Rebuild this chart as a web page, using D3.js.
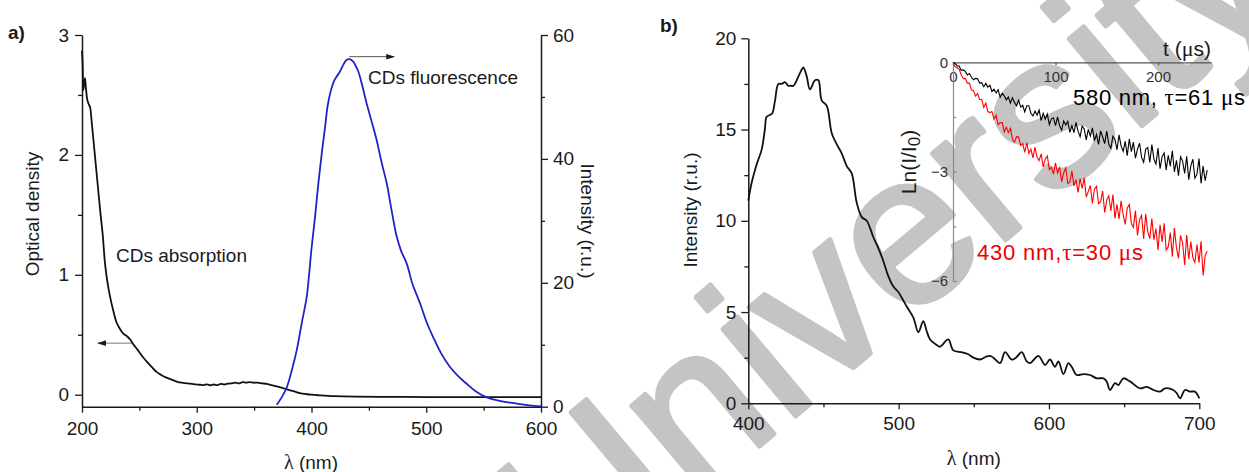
<!DOCTYPE html>
<html><head><meta charset="utf-8">
<script src="https://cdn.jsdelivr.net/npm/d3@7"></script>
<style>
body{margin:0;background:#fff}
svg{display:block}
</style></head><body>
<svg id="c" width="1249" height="472"></svg>
<script>
// ---------- DATA ----------
// panel a: absorption (optical density)
const absWl = [200,200.6,201.1,202,202.6,203.5,204.6,206,207,208.5,210,212,214,216,218,220,222,224.4,227,230.2,233,236,238.9,242,244.7,248,251,253.4,257,261,265,269,273,277,282.5,287,292,297,302.8,306,309,312,315,318,321,324,327,331.8,334,337,340,343,346,349.3,353,357,361,365,369.7,375,380,385,390,395,400,407,420,440,470,500,550,600];
const absOD = [2.87,2.75,2.54,2.6,2.64,2.55,2.46,2.42,2.4,2.27,2.12,1.92,1.72,1.52,1.34,1.1,0.95,0.82,0.71,0.6,0.55,0.51,0.49,0.46,0.42,0.38,0.34,0.31,0.27,0.23,0.19,0.165,0.145,0.13,0.11,0.1,0.095,0.088,0.083,0.08,0.087,0.078,0.085,0.08,0.09,0.085,0.092,0.097,0.1,0.095,0.105,0.1,0.105,0.1,0.1,0.095,0.09,0.08,0.07,0.055,0.04,0.027,0.014,0.006,0.0,-0.005,-0.012,-0.016,-0.018,-0.02,-0.02,-0.02];
// panel a: fluorescence (intensity, right axis)
const flWl = [369.7,374,378.4,383,387.1,391.5,395.8,398,400,403,406,409,411.8,414,416.7,420,424.8,428,430.7,433,436.4,438.5,440.8,444,448,452,456.8,461,465.5,470,474.2,478,483,488,494.6,500,506.1,513,520.7,528,535.2,543,552.7,565,578.8,590,600];
const flInt = [0.3,1.5,3.1,6,9.1,13.5,17.7,21.5,25.5,30.5,36.1,41,45.1,48.5,50.9,52.7,54.1,55.3,56,56.1,55.7,55,54.1,52,49,46.3,43,39.5,36.1,31.5,27.5,25.2,23.1,19.8,16.7,13.8,11.2,8.6,6.4,4.9,3.7,2.5,1.5,0.9,0.5,0.2,0.05];
// panel b: emission spectrum
const pbWl = [400,402,404.5,406,408.9,411,412.2,414.4,416,417.8,420,422.2,424.4,426.6,428,430,433.3,435,436.6,438.9,441,444.4,446.6,448.8,452.2,455.5,458.8,462.1,465.5,468.8,472.1,475.5,478.8,481,483.2,486,489.8,493,496.5,499.8,502,505.4,509.8,513.1,516.4,518.5,520.9,525.3,527.5,533,536.4,542,546,549.7,554.2,558,560.8,563,567.5,570.8,575.2,578,581.9,585.2,587.5,593,597.4,600.7,604,606.3,609.6,612.9,615.1,618.5,622.9,627.3,631.8,636.2,638.4,640.6,644,646.2,649.5,653.9,660.6,665,669.5,673.9,677.2,682.7,685,687.2,690.5,693.8,697.1,700];
const pbInt = [11.1,12.0,12.8,13.2,13.9,15.0,15.7,15.8,15.9,16.6,17.5,17.5,17.6,17.4,17.4,17.4,17.9,18.2,18.4,17.9,17.2,17.7,17.7,16.6,16.3,14.8,14.2,13.7,13.0,12.6,11.0,10.2,10.0,9.6,9.1,8.6,7.8,7.0,6.4,6.1,5.8,5.3,4.7,3.9,4.5,4.0,3.5,3.2,3.1,3.5,2.9,2.8,2.7,2.5,2.4,2.55,2.6,2.5,2.2,2.8,2.4,2.5,2.8,2.3,2.2,2.6,2.1,2.4,2.0,2.3,1.6,2.2,2.0,1.55,1.6,1.55,1.37,1.37,1.2,0.73,1.1,1.0,1.37,1.2,0.82,0.9,0.73,0.64,0.82,0.73,0.55,0.27,0.73,0.64,0.64,0.27];
// inset: decay curves Ln(I/I0), one sample every decayStep microseconds from t = 0
const decayStep = 2;
const decay580 = [0,-0.03,-0.10,-0.10,-0.22,-0.21,-0.25,-0.35,-0.31,-0.41,-0.48,-0.44,-0.45,-0.57,-0.56,-0.67,-0.58,-0.68,-0.63,-0.80,-0.74,-0.84,-0.75,-0.96,-0.85,-0.92,-1.03,-0.95,-1.12,-0.97,-1.10,-1.19,-1.04,-1.23,-1.18,-1.36,-1.19,-1.19,-1.40,-1.47,-1.34,-1.45,-1.31,-1.60,-1.40,-1.56,-1.42,-1.71,-1.55,-1.52,-1.74,-1.50,-1.74,-1.86,-1.61,-1.72,-1.62,-1.92,-1.74,-1.93,-1.65,-1.89,-2.04,-1.75,-1.83,-2.13,-1.84,-2.02,-1.80,-2.15,-1.98,-2.25,-1.88,-2.05,-2.23,-1.89,-2.25,-2.36,-2.03,-2.12,-2.40,-1.99,-2.30,-2.44,-2.17,-2.56,-2.10,-2.45,-2.19,-2.63,-2.38,-2.22,-2.61,-2.74,-2.38,-2.34,-2.75,-2.26,-2.65,-2.79,-2.35,-2.92,-2.59,-2.49,-2.95,-2.55,-2.85,-2.43,-3.01,-2.69,-3.11,-2.59,-2.71,-3.05,-2.58,-3.22,-2.84,-2.66,-3.18,-3.07,-2.64,-3.32,-2.85,-3.25,-2.96];
const decay430 = [0,-0.12,-0.15,-0.19,-0.34,-0.45,-0.44,-0.57,-0.57,-0.76,-0.77,-0.93,-0.86,-1.02,-1.02,-1.24,-1.12,-1.35,-1.38,-1.35,-1.56,-1.45,-1.71,-1.66,-1.65,-1.91,-1.78,-1.93,-1.81,-2.11,-2.19,-2.04,-2.05,-2.28,-2.23,-2.47,-2.20,-2.50,-2.38,-2.62,-2.33,-2.60,-2.70,-2.51,-2.87,-2.65,-2.57,-2.94,-2.88,-3.07,-2.76,-3.04,-2.87,-3.28,-3.03,-2.90,-3.32,-3.29,-2.98,-3.39,-3.22,-3.57,-3.19,-3.46,-3.17,-3.70,-3.54,-3.38,-3.87,-3.48,-3.40,-3.88,-3.83,-3.53,-4.12,-3.78,-3.66,-4.08,-3.63,-4.28,-3.90,-4.30,-3.80,-4.17,-4.45,-4.00,-3.90,-4.42,-4.53,-4.07,-4.75,-4.32,-4.20,-4.84,-4.16,-4.65,-4.84,-4.29,-4.87,-4.56,-5.15,-4.46,-4.93,-4.42,-5.15,-5.06,-4.67,-5.33,-4.55,-5.09,-5.38,-4.75,-4.95,-5.56,-4.74,-5.40,-4.92,-5.36,-5.49,-5.00,-5.50,-4.91,-5.85,-5.30,-5.18];
// ticks
const aXTicks = [200,300,400,500,600], aXMinor = [250,350,450,550];
const aYTicks = [0,1,2,3], aYMinor = [0.5,1.5,2.5];
const aY2Ticks = [0,20,40,60], aY2Minor = [10,30,50];
const bXTicks = [400,500,600,700], bXMinor = [450,550,650];
const bYTicks = [0,5,10,15,20], bYMinor = [2.5,7.5,12.5,17.5];
const iXTicks = [0,100,200];
const iYTicks = [0,-3,-6], iYMinor = [-1.5,-4.5];

// ---------- DRAW ----------
const FONT = '"Liberation Sans", Arial, sans-serif';
const GREEK = '"Liberation Serif", "Times New Roman", serif';
const INK = "#1a1a1a";
const svg = d3.select("#c");

// watermark
svg.append("text")
  .attr("transform", "translate(935,299) rotate(-40)")
  .attr("text-anchor", "middle")
  .attr("font-family", FONT).attr("font-size", 214)
  .attr("fill", "#c4c4c4").attr("stroke", "#c4c4c4").attr("stroke-width", 5)
  .attr("stroke-linejoin", "round").text("University");

const defs = svg.append("defs");
defs.append("marker").attr("id", "arr").attr("viewBox", "0 0 10 8")
  .attr("refX", 9).attr("refY", 4).attr("markerWidth", 9).attr("markerHeight", 7)
  .attr("markerUnits", "userSpaceOnUse").attr("orient", "auto")
  .append("path").attr("d", "M0,0.8 L10,4 L0,7.2 Z").attr("fill", INK);

function styleAxis(g, fs, col) {
  g.attr("font-family", FONT).attr("font-size", fs);
  g.selectAll("path.domain").attr("stroke", col || INK).attr("stroke-width", 1.5);
  g.selectAll(".tick line").attr("stroke", col || INK).attr("stroke-width", 1.3);
  g.selectAll(".tick text").attr("fill", INK);
}
function minor(g, axis, col) { g.call(axis); g.select("path.domain").remove(); g.selectAll(".tick line").attr("stroke", col || INK).attr("stroke-width", 1.3); }

// ===== Panel a =====
const xA = d3.scaleLinear([200, 600], [82, 541]);
const yA = d3.scaleLinear([-0.1, 3], [406.7, 35]);
const yA2 = d3.scaleLinear([0, 60], [406.7, 35]);

const gaX = svg.append("g").attr("transform", "translate(0,406.7)")
  .call(d3.axisBottom(xA).tickValues(aXTicks).tickSize(6).tickSizeOuter(0).tickPadding(9).tickFormat(d3.format("d")));
styleAxis(gaX, 19);
minor(svg.append("g").attr("transform", "translate(0,406.7)"), d3.axisBottom(xA).tickValues(aXMinor).tickSize(4).tickFormat(""));

const gaY = svg.append("g").attr("transform", "translate(82,0)")
  .call(d3.axisLeft(yA).tickValues(aYTicks).tickSize(7).tickSizeOuter(0).tickPadding(6).tickFormat(d3.format("d")));
styleAxis(gaY, 19);
minor(svg.append("g").attr("transform", "translate(82,0)"), d3.axisLeft(yA).tickValues(aYMinor).tickSize(4).tickFormat(""));

const gaY2 = svg.append("g").attr("transform", "translate(541,0)")
  .call(d3.axisRight(yA2).tickValues(aY2Ticks).tickSize(7).tickSizeOuter(0).tickPadding(5).tickFormat(d3.format("d")));
styleAxis(gaY2, 19);
minor(svg.append("g").attr("transform", "translate(541,0)"), d3.axisRight(yA2).tickValues(aY2Minor).tickSize(4).tickFormat(""));

const lineA = d3.line().x(d => xA(d[0])).y(d => yA(d[1])).curve(d3.curveCatmullRom);
const lineA2 = d3.line().x(d => xA(d[0])).y(d => yA2(d[1])).curve(d3.curveCatmullRom);
svg.append("path").datum(d3.zip(absWl, absOD)).attr("d", lineA)
  .attr("fill", "none").attr("stroke", "#111").attr("stroke-width", 1.8);
svg.append("path").datum(d3.zip(flWl, flInt)).attr("d", lineA2)
  .attr("fill", "none").attr("stroke", "#2222c8").attr("stroke-width", 1.8);

// arrows
svg.append("line").attr("x1", xA(243)).attr("x2", xA(214)).attr("y1", yA(0.43)).attr("y2", yA(0.43))
  .attr("stroke", "#777").attr("stroke-width", 1).attr("marker-end", "url(#arr)");
svg.append("line").attr("x1", xA(433)).attr("x2", xA(472)).attr("y1", yA2(56.5)).attr("y2", yA2(56.5))
  .attr("stroke", "#555").attr("stroke-width", 1).attr("marker-end", "url(#arr)");

function txt(x, y, s, opt) {
  opt = opt || {};
  const t = svg.append("text").attr("x", x).attr("y", y).attr("font-family", FONT)
    .attr("font-size", opt.fs || 19).attr("fill", opt.fill || INK)
    .attr("text-anchor", opt.anchor || "start");
  if (opt.weight) t.attr("font-weight", opt.weight);
  if (opt.rot) t.attr("transform", `rotate(${opt.rot},${x},${y})`);
  t.text(s);
  return t;
}
txt(116, 262, "CDs absorption");
txt(368, 84, "CDs fluorescence");
txt(8, 39, "a)", {weight: "bold"});
txt(39, 214, "Optical density", {anchor: "middle", rot: -90});
txt(581, 221, "Intensity (r.u.)", {anchor: "middle", rot: 90});
const la = txt(311, 469, "", {anchor: "middle"});
la.append("tspan").attr("font-family", GREEK).attr("font-size", 20).text("λ");
la.append("tspan").text(" (nm)");

// ===== Panel b =====
const xB = d3.scaleLinear([400, 700], [748.3, 1199.3]);
const yB = d3.scaleLinear([0, 20], [403.3, 38.3]);

const gbX = svg.append("g").attr("transform", "translate(0,403.3)")
  .call(d3.axisBottom(xB).tickValues(bXTicks).tickSize(6).tickSizeOuter(0).tickPadding(7).tickFormat(d3.format("d")));
styleAxis(gbX, 19);
minor(svg.append("g").attr("transform", "translate(0,403.3)"), d3.axisBottom(xB).tickValues(bXMinor).tickSize(4).tickFormat(""));

const gbY = svg.append("g").attr("transform", "translate(748.3,0)")
  .call(d3.axisLeft(yB).tickValues(bYTicks).tickSize(7).tickSizeOuter(0).tickPadding(5).tickFormat(d3.format("d")));
styleAxis(gbY, 19);
minor(svg.append("g").attr("transform", "translate(748.3,0)"), d3.axisLeft(yB).tickValues(bYMinor).tickSize(4).tickFormat(""));

const lineB = d3.line().x(d => xB(d[0])).y(d => yB(d[1])).curve(d3.curveCatmullRom);
svg.append("path").datum(d3.zip(pbWl, pbInt)).attr("d", lineB)
  .attr("fill", "none").attr("stroke", "#111").attr("stroke-width", 1.8);

txt(660, 32, "b)", {weight: "bold"});
txt(697, 210, "Intensity (r.u.)", {anchor: "middle", rot: -90});
const lb = txt(973.8, 465, "", {anchor: "middle"});
lb.append("tspan").attr("font-family", GREEK).attr("font-size", 20).text("λ");
lb.append("tspan").text(" (nm)");

// ===== Inset =====
const xI = d3.scaleLinear([0, 252], [953, 1211.3]);
const yI = d3.scaleLinear([-6, 0], [281, 62.3]);

const giX = svg.append("g").attr("transform", "translate(0,62.3)")
  .call(d3.axisBottom(xI).tickValues(iXTicks).tickSize(3).tickSizeOuter(0).tickPadding(6).tickFormat(d3.format("d")));
styleAxis(giX, 15, "#555");
giX.select("path.domain").attr("stroke-width", 1.2);
giX.selectAll(".tick text").attr("fill", "#333");
const giY = svg.append("g").attr("transform", "translate(953,0)")
  .call(d3.axisLeft(yI).tickValues(iYTicks).tickSize(-4).tickSizeOuter(0).tickPadding(5).tickFormat(d3.format("d")));
styleAxis(giY, 15, "#8a8a8a");
giY.select("path.domain").attr("stroke-width", 1.2);
giY.selectAll(".tick text").attr("fill", "#333");
minor(svg.append("g").attr("transform", "translate(953,0)"), d3.axisLeft(yI).tickValues(iYMinor).tickSize(-3).tickFormat(""), "#8a8a8a");

const lineI = d3.line().x((d, i) => xI(i * decayStep)).y(d => yI(d));
svg.append("path").datum(decay580).attr("d", lineI)
  .attr("fill", "none").attr("stroke", "#000").attr("stroke-width", 1.1);
svg.append("path").datum(decay430).attr("d", lineI)
  .attr("fill", "none").attr("stroke", "#ff0000").attr("stroke-width", 1.1);

const tt = txt(1163, 56, "t (", {fs: 21});
tt.append("tspan").attr("font-family", GREEK).attr("font-size", 22).text("μ");
tt.append("tspan").text("s)");
const l580 = txt(1073, 105, "580 nm, ", {fs: 22, fill: "#000"});
l580.append("tspan").attr("font-family", GREEK).attr("font-size", 23).text("τ");
l580.append("tspan").text("=61 ");
l580.append("tspan").attr("font-family", GREEK).attr("font-size", 23).text("μ");
l580.append("tspan").text("s");
l580.attr("textLength", 172).attr("lengthAdjust", "spacing");
const l430 = txt(977, 260, "430 nm,", {fs: 22, fill: "#ee0000"});
l430.append("tspan").attr("font-family", GREEK).attr("font-size", 23).text("τ");
l430.append("tspan").text("=30 ");
l430.append("tspan").attr("font-family", GREEK).attr("font-size", 23).text("μ");
l430.append("tspan").text("s");
l430.attr("textLength", 166).attr("lengthAdjust", "spacing");
const ln = txt(916, 162, "Ln(I/I", {fs: 21, anchor: "middle", rot: -90});
ln.append("tspan").attr("baseline-shift", "-25%").attr("font-size", 17).text("0");
ln.append("tspan").text(")");
</script>
</body></html>
